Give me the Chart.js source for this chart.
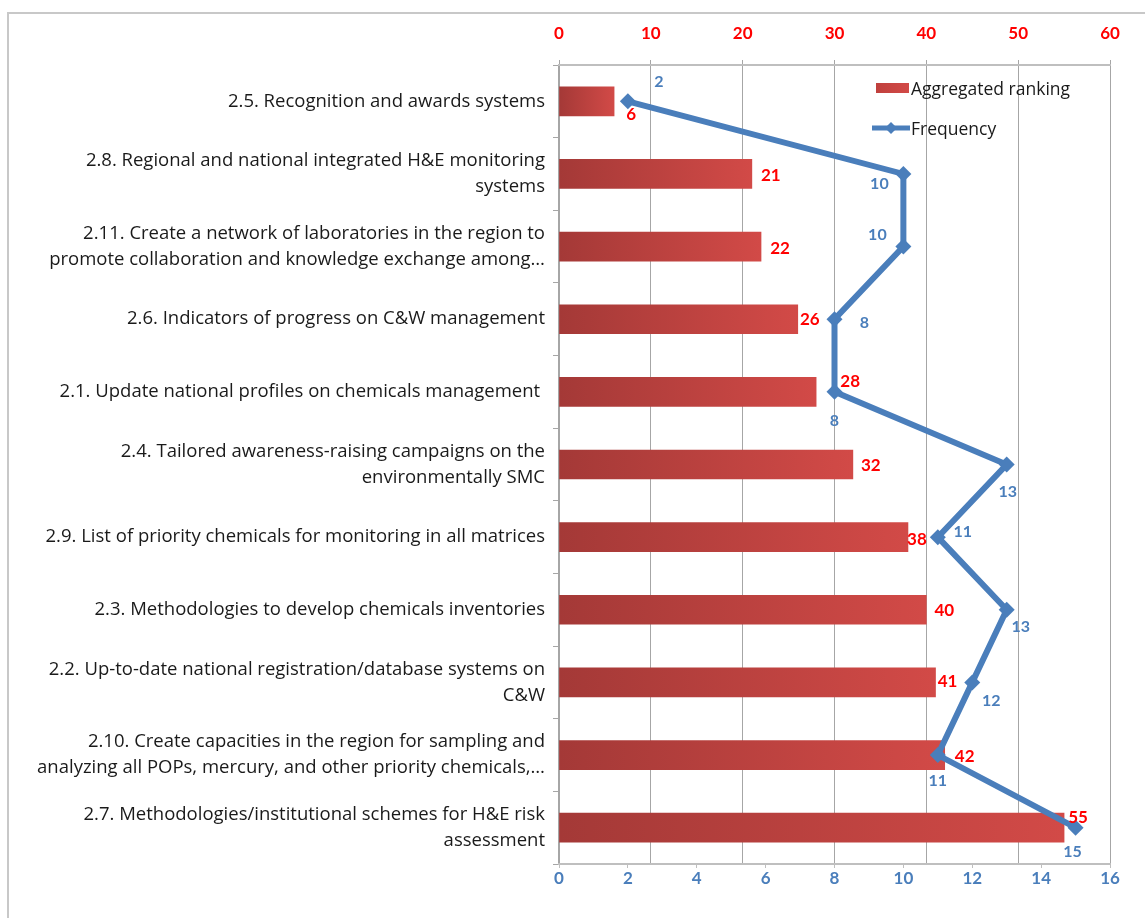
<!DOCTYPE html>
<html>
<head>
<meta charset="UTF-8">
<title>Aggregated ranking and frequency</title>
<script src="https://cdn.jsdelivr.net/npm/chart.js"></script>
<style>
  html, body { margin: 0; padding: 0; background: #fff; }
  #wrap { position: relative; width: 1145px; height: 918px; }
</style>
</head>
<body>
<div id="wrap"><canvas id="rankChart" width="1145" height="918"></canvas></div>
<script>
// categories (top to bottom)
var categories = [
  '2.5. Recognition and awards systems',
  ['2.8. Regional and national integrated H&E monitoring', 'systems'],
  ['2.11. Create a network of laboratories in the region to', 'promote collaboration and knowledge exchange among\u2026'],
  '2.6. Indicators of progress on C&W management',
  '2.1. Update national profiles on chemicals management ',
  ['2.4. Tailored awareness-raising campaigns on the', 'environmentally SMC'],
  '2.9. List of priority chemicals for monitoring in all matrices',
  '2.3. Methodologies to develop chemicals inventories',
  ['2.2. Up-to-date national registration/database systems on', 'C&W'],
  ['2.10. Create capacities in the region for sampling and', 'analyzing all POPs, mercury, and other priority chemicals,\u2026'],
  ['2.7. Methodologies/institutional schemes for H&E risk', 'assessment']
];
var rankValues = [6, 21, 22, 26, 28, 32, 38, 40, 41, 42, 55];
var freqValues = [2, 10, 10, 8, 8, 13, 11, 13, 12, 11, 15];
var rankTicks = [0, 10, 20, 30, 40, 50, 60];
var freqTicks = [0, 2, 4, 6, 8, 10, 12, 14, 16];

// label nudges (pixels), placed by hand in the original
var rankLabelShift = [[17, 13], [19, 2], [19, 2], [12, 0], [34, -10], [18, 1], [9, 2], [18, 1], [12, -1], [20, 1], [14, -10]];
var freqLabelShift = [[31, -19], [-24, 10], [-26, -12], [30, 4], [0, 29], [1, 27], [25, -5], [14, 17], [19, 18], [0, 26], [-3, 24]];

var FONT = 'Lato, "Open Sans", sans-serif';
var TEXT_FONT = '"Open Sans", Lato, sans-serif';
var RED = '#ff0000';
var BLUE = '#4a7ebb';
Chart.defaults.font.family = FONT;

// frame, value labels and the legend
var extras = {
  id: 'extras',
  beforeDraw: function (chart) {
    var ctx = chart.ctx;
    ctx.save();
    ctx.strokeStyle = '#c8c8c8';
    ctx.lineWidth = 2;
    ctx.beginPath();
    ctx.moveTo(8, 918);
    ctx.lineTo(8, 13);
    ctx.lineTo(1145, 13);
    ctx.stroke();
    ctx.restore();
  },
  afterDatasetsDraw: function (chart) {
    var ctx = chart.ctx;
    ctx.save();
    ctx.textAlign = 'center';
    ctx.textBaseline = 'middle';
    var barMeta = chart.getDatasetMeta(1);
    ctx.font = 'bold 17px ' + FONT;
    ctx.fillStyle = RED;
    barMeta.data.forEach(function (el, i) {
      ctx.fillText(String(rankValues[i]), el.x + rankLabelShift[i][0], el.y + rankLabelShift[i][1]);
    });
    var lineMeta = chart.getDatasetMeta(0);
    ctx.font = 'bold 16px ' + FONT;
    ctx.fillStyle = BLUE;
    lineMeta.data.forEach(function (el, i) {
      ctx.fillText(String(freqValues[i]), el.x + freqLabelShift[i][0], el.y + freqLabelShift[i][1]);
    });

    // legend
    ctx.textAlign = 'left';
    ctx.font = '17.5px ' + TEXT_FONT;
    var g = ctx.createLinearGradient(876, 0, 909, 0);
    g.addColorStop(0, '#c0403d');
    g.addColorStop(1, '#d24a47');
    ctx.fillStyle = g;
    ctx.fillRect(876, 83, 33, 10);
    ctx.fillStyle = '#1a1a1a';
    ctx.fillText('Aggregated ranking', 911, 90);
    ctx.strokeStyle = BLUE;
    ctx.lineWidth = 5;
    ctx.beginPath();
    ctx.moveTo(872, 128);
    ctx.lineTo(910, 128);
    ctx.stroke();
    ctx.fillStyle = BLUE;
    ctx.beginPath();
    ctx.moveTo(891, 122);
    ctx.lineTo(897, 128);
    ctx.lineTo(891, 134);
    ctx.lineTo(885, 128);
    ctx.closePath();
    ctx.fill();
    ctx.fillStyle = '#1a1a1a';
    ctx.fillText('Frequency', 911, 130);
    ctx.restore();
  }
};

var ctx = document.getElementById('rankChart').getContext('2d');
var rankChart = new Chart(ctx, {
  data: {
    labels: categories,
    datasets: [{
      type: 'line',
      label: 'Frequency',
      data: freqValues,
      xAxisID: 'x2',
      yAxisID: 'y',
      borderColor: BLUE,
      borderWidth: 6,
      pointStyle: 'rectRot',
      pointRadius: 8,
      pointBackgroundColor: BLUE,
      pointBorderColor: BLUE,
      pointBorderWidth: 0,
      tension: 0,
      order: 0
    }, {
      type: 'bar',
      label: 'Aggregated ranking',
      data: rankValues,
      xAxisID: 'x',
      yAxisID: 'y',
      barThickness: 29,
      order: 1,
      backgroundColor: function (c) {
        var chart = c.chart;
        if (!chart.chartArea || c.dataIndex === undefined) return '#c0403d';
        var xs = chart.scales.x;
        var x0 = xs.getPixelForValue(0);
        var x1 = xs.getPixelForValue(rankValues[c.dataIndex]);
        var g = chart.ctx.createLinearGradient(x0, 0, x1, 0);
        g.addColorStop(0, '#a43937');
        g.addColorStop(1, '#d24a47');
        return g;
      }
    }]
  },
  options: {
    indexAxis: 'y',
    responsive: false,
    animation: false,
    layout: { padding: { left: 0, right: 35, top: 0, bottom: 0 } },
    plugins: {
      legend: { display: false },
      tooltip: { enabled: false }
    },
    scales: {
      y: {
        type: 'category',
        position: 'left',
        offset: true,
        grid: { drawOnChartArea: false, offset: true, tickLength: 6, color: '#a6a6a6' },
        border: { color: '#a6a6a6', width: 1.5 },
        ticks: {
          color: '#1a1a1a',
          padding: 8,
          font: { family: TEXT_FONT, size: 18.5, lineHeight: 1.4 }
        },
        afterFit: function (scale) { scale.width = 559; }
      },
      x: {
        type: 'linear',
        position: 'top',
        min: 0,
        max: 60,
        afterBuildTicks: function (scale) {
          scale.ticks = rankTicks.map(function (v) { return { value: v }; });
        },
        grid: { color: '#a6a6a6', lineWidth: 1, tickLength: 5 },
        border: { color: '#bfbfbf', width: 2 },
        ticks: {
          color: RED,
          padding: 16,
          font: { size: 17, weight: 'bold' }
        },
        afterFit: function (scale) { scale.height = 65; }
      },
      x2: {
        type: 'linear',
        position: 'bottom',
        min: 0,
        max: 16,
        afterBuildTicks: function (scale) {
          scale.ticks = freqTicks.map(function (v) { return { value: v }; });
        },
        grid: { drawOnChartArea: false, tickLength: 4, color: '#bfbfbf' },
        border: { color: '#bfbfbf', width: 2 },
        ticks: {
          color: BLUE,
          padding: 0,
          font: { size: 17, weight: 'bold' }
        },
        afterFit: function (scale) { scale.height = 54; }
      }
    }
  },
  plugins: [extras]
});
</script>
</body>
</html>
